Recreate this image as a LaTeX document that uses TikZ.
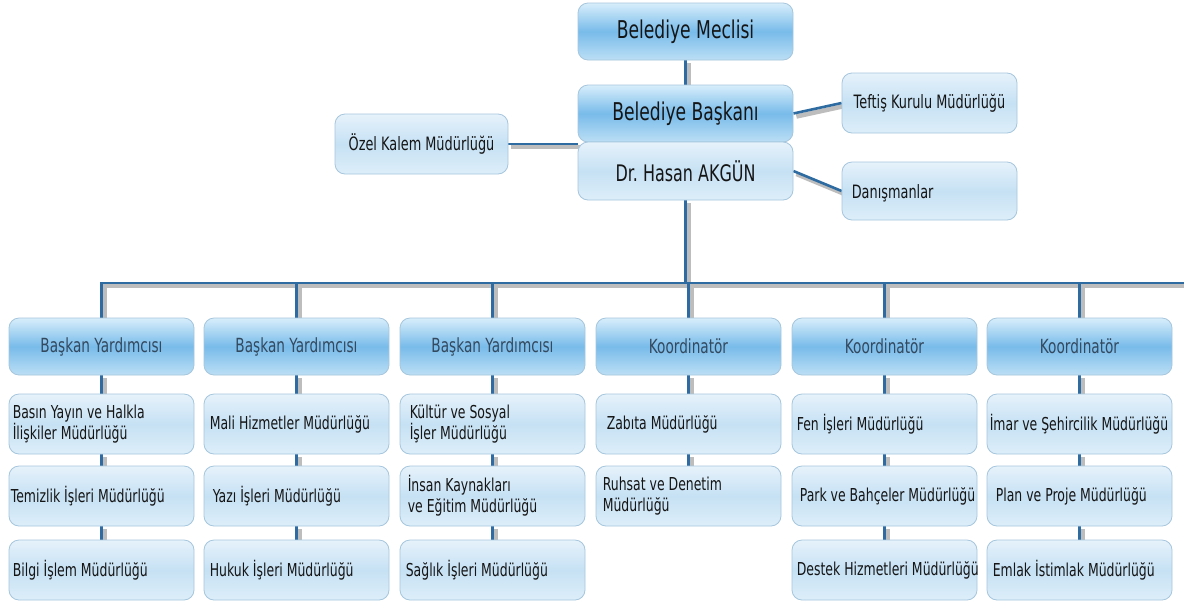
\documentclass[tikz,border=0pt]{standalone}
\usepackage{fontspec}
\setmainfont{DejaVu Sans}[FakeStretch=0.7]
\usetikzlibrary{backgrounds}
\definecolor{bord}{HTML}{A6C6DD}
\definecolor{dTop}{HTML}{D8EEFB}
\definecolor{dMid}{HTML}{78BBEA}
\definecolor{dBot}{HTML}{BCDFF5}
\definecolor{lTop}{HTML}{E6F2FB}
\definecolor{lMid}{HTML}{C6E1F4}
\definecolor{lBot}{HTML}{DDEEF9}
\definecolor{lineblue}{HTML}{2E6BA0}
\definecolor{shadowgray}{HTML}{BDBDBD}
\definecolor{headtxt}{HTML}{34495E}
\definecolor{txt}{HTML}{151515}
\newcommand\unitnode[5]{%
  \node[unitbox] (#1) at (#2,#3) {};
  \node[utext] (#1t) at ([xshift=#4pt]#1.west) {#5};}
\begin{document}
\begin{tikzpicture}[x=1pt,y=-1pt,
  base/.style={draw=bord, line width=0.8pt, rounded corners=10pt, inner sep=0pt, text=txt},
  dbox/.style={base, top color=dTop, bottom color=dBot, middle color=dMid},
  lbox/.style={base, top color=lTop, bottom color=lBot, middle color=lMid},
  topbox/.style={dbox, minimum width=215pt, minimum height=57pt, font=\fontsize{24.5}{28}\selectfont},
  headbox/.style={dbox, minimum width=185pt, minimum height=57pt, font=\fontsize{19.5}{23}\selectfont, text=headtxt},
  sidebox/.style={lbox, minimum width=175pt, minimum height=60pt, font=\fontsize{18.4}{22}\selectfont},
  unitbox/.style={lbox, minimum width=185pt, minimum height=60pt},
  utext/.style={anchor=west, align=left, inner sep=0pt, text=txt, font=\fontsize{17.8}{21}\selectfont},
  conn/.style={draw=lineblue, line width=2.6pt,
    preaction={draw=shadowgray, line width=4.5pt, transform canvas={shift={(3pt,-3pt)}}}}
]
\useasboundingbox (0,0) rectangle (1184,606);

% top part
\node[topbox] (mec) at (685.5,31.5) {Belediye Meclisi};
\node[topbox] (bsk) at (685.5,113.5) {Belediye Başkanı};
\node[lbox, minimum width=215pt, minimum height=58pt, font=\fontsize{22.8}{26}\selectfont] (hasan) at (685.5,171) {Dr.\ Hasan AKGÜN};
\node[sidebox] (teftis) at (929.5,103) {Teftiş Kurulu Müdürlüğü};
\node[lbox, minimum width=175pt, minimum height=58pt] (danis) at (929.5,191) {};
\node[utext, font=\fontsize{18.4}{22}\selectfont] (danist) at ([xshift=10pt,yshift=-2pt]danis.west) {Danışmanlar};
\node[lbox, minimum width=173pt, minimum height=60pt, font=\fontsize{18.4}{22}\selectfont] (ozel) at (421.5,144) {Özel Kalem Müdürlüğü};

% heads
\node[headbox] (ha) at (101.5,346.5) {Başkan Yardımcısı};
\node[headbox] (hb) at (296.5,346.5) {Başkan Yardımcısı};
\node[headbox] (hc) at (492.5,346.5) {Başkan Yardımcısı};
\node[headbox] (hd) at (688.5,346.5) {Koordinatör};
\node[headbox] (he) at (884.5,346.5) {Koordinatör};
\node[headbox] (hf) at (1079.5,346.5) {Koordinatör};

% units
\unitnode{a1}{101.5}{424}{4}{Basın Yayın ve Halkla\\İlişkiler Müdürlüğü}
\unitnode{a2}{101.5}{496}{2}{Temizlik İşleri Müdürlüğü}
\unitnode{a3}{101.5}{570}{4}{Bilgi İşlem Müdürlüğü}
\unitnode{b1}{296.5}{424}{6}{Mali Hizmetler Müdürlüğü}
\unitnode{b2}{296.5}{496}{9}{Yazı İşleri Müdürlüğü}
\unitnode{b3}{296.5}{570}{6}{Hukuk İşleri Müdürlüğü}
\unitnode{c1}{492.5}{424}{10}{Kültür ve Sosyal\\İşler Müdürlüğü}
\unitnode{c2}{492.5}{496}{8}{İnsan Kaynakları\\ve Eğitim Müdürlüğü}
\unitnode{c3}{492.5}{570}{6}{Sağlık İşleri Müdürlüğü}
\unitnode{d1}{688.5}{424}{11}{Zabıta Müdürlüğü}
\unitnode{d2}{688.5}{496}{7}{Ruhsat ve Denetim\\Müdürlüğü}
\unitnode{e1}{884.5}{424}{5}{Fen İşleri Müdürlüğü}
\unitnode{e2}{884.5}{496}{8}{Park ve Bahçeler Müdürlüğü}
\unitnode{e3}{884.5}{570}{5}{Destek Hizmetleri Müdürlüğü}
\unitnode{f1}{1079.5}{424}{3}{İmar ve Şehircilik Müdürlüğü}
\unitnode{f2}{1079.5}{496}{9}{Plan ve Proje Müdürlüğü}
\unitnode{f3}{1079.5}{570}{6}{Emlak İstimlak Müdürlüğü}

\coordinate (busR) at (1184,283);

\begin{pgfonlayer}{background}
\fill[white] (0,0) rectangle (1184,606);
\draw[conn] (mec.south) -- (bsk.north);
\draw[conn] (bsk.east) -- (teftis.west);
\draw[conn] (hasan.east) -- (danis.west);
\draw[conn] (ozel.east) -- (ozel.east -| hasan.west);
\draw[conn] (hasan.south) -- (hasan.south |- busR);
\draw[conn] (ha.north) |- (busR);
\foreach \h in {hb,hc,hd,he,hf} \draw[conn] (\h.north) -- (\h.north |- busR);
\foreach \c in {a,b,c,e,f} {
  \draw[conn] (h\c.south) -- (\c1.north);
  \draw[conn] (\c1.south) -- (\c2.north);
  \draw[conn] (\c2.south) -- (\c3.north);
}
\draw[conn] (hd.south) -- (d1.north);
\draw[conn] (d1.south) -- (d2.north);
\end{pgfonlayer}
\end{tikzpicture}
\end{document}
